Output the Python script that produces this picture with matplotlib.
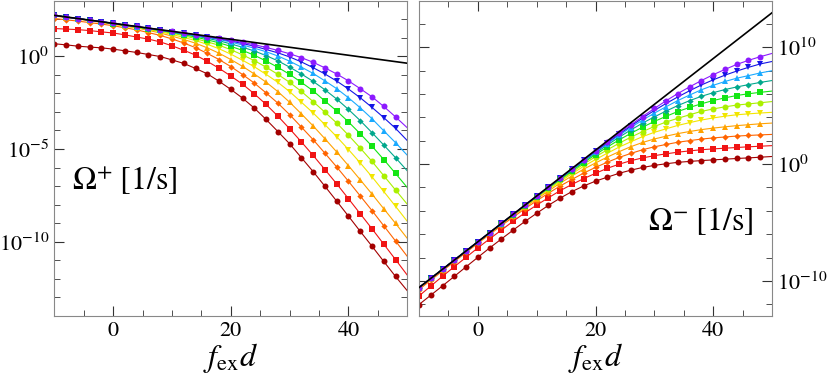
import matplotlib.pyplot as plt
from matplotlib import ticker

plt.rcParams["font.family"] = "STIXGeneral"
plt.rcParams["mathtext.fontset"] = "stix"

# x grid (f_ex d); markers sit on every point except the last one
fd = list(range(-10, 51, 2))

# black reference lines (straight on the log axis), log10 values at the two ends
black_x = [-10, 50]
black_plus = [2.20, -0.38]
black_minus = [-10.57, 12.95]

# log10 of Omega+ (left panel)
plus_darkred = [0.67, 0.61, 0.54, 0.49, 0.45, 0.38, 0.29, 0.20, 0.09, -0.02, -0.20, -0.39, -0.66, -0.95, -1.35,
                -1.79, -2.26, -2.80, -3.41, -4.06, -4.72, -5.47, -6.22, -7.01, -7.81, -8.62, -9.44, -10.24,
                -11.06, -11.87, -12.64]
plus_red = [1.49, 1.46, 1.43, 1.38, 1.31, 1.25, 1.15, 1.03, 0.92, 0.77, 0.56, 0.32, 0.06, -0.28, -0.65, -1.07,
            -1.51, -2.03, -2.60, -3.23, -3.91, -4.62, -5.35, -6.11, -6.88, -7.68, -8.49, -9.30, -10.13, -10.96,
            -11.80]
plus_orange = [2.03, 1.96, 1.89, 1.81, 1.73, 1.64, 1.53, 1.42, 1.27, 1.12, 0.93, 0.71, 0.46, 0.15, -0.18, -0.56,
               -0.99, -1.45, -1.98, -2.53, -3.15, -3.82, -4.50, -5.23, -5.97, -6.74, -7.53, -8.32, -9.14, -9.96,
               -10.79]
plus_lorange = [2.17, 2.08, 2.00, 1.91, 1.82, 1.72, 1.62, 1.52, 1.39, 1.25, 1.08, 0.90, 0.70, 0.45, 0.16, -0.18,
                -0.55, -0.96, -1.40, -1.91, -2.48, -3.11, -3.76, -4.45, -5.16, -5.90, -6.66, -7.43, -8.22, -9.01,
                -9.82]
plus_yellow = [2.20, 2.11, 2.02, 1.93, 1.84, 1.74, 1.64, 1.55, 1.44, 1.32, 1.17, 1.01, 0.84, 0.64, 0.40, 0.11,
               -0.22, -0.57, -0.98, -1.41, -1.91, -2.48, -3.06, -3.69, -4.34, -5.03, -5.75, -6.50, -7.29, -8.09,
               -8.90]
plus_ygreen = [2.20, 2.11, 2.03, 1.93, 1.85, 1.75, 1.65, 1.56, 1.46, 1.36, 1.24, 1.10, 0.95, 0.77, 0.59, 0.35,
               0.07, -0.24, -0.59, -0.98, -1.41, -1.90, -2.45, -3.02, -3.60, -4.26, -4.95, -5.67, -6.44, -7.21,
               -7.98]
plus_green = [2.20, 2.11, 2.03, 1.94, 1.85, 1.76, 1.66, 1.58, 1.48, 1.39, 1.28, 1.16, 1.03, 0.88, 0.72, 0.53,
              0.31, 0.05, -0.26, -0.60, -0.98, -1.41, -1.87, -2.42, -2.95, -3.54, -4.18, -4.85, -5.57, -6.32,
              -7.08]
plus_teal = [2.20, 2.11, 2.03, 1.94, 1.86, 1.77, 1.67, 1.59, 1.49, 1.40, 1.30, 1.20, 1.09, 0.96, 0.83, 0.66, 0.48,
             0.28, 0.03, -0.25, -0.59, -0.96, -1.36, -1.81, -2.31, -2.87, -3.47, -4.12, -4.79, -5.47, -6.18]
plus_lblue = [2.20, 2.11, 2.03, 1.94, 1.86, 1.77, 1.68, 1.59, 1.50, 1.41, 1.31, 1.21, 1.12, 1.01, 0.90, 0.76,
              0.60, 0.43, 0.24, 0.01, -0.27, -0.59, -0.93, -1.33, -1.75, -2.24, -2.78, -3.37, -4.02, -4.66, -5.34]
plus_blue = [2.20, 2.11, 2.03, 1.94, 1.86, 1.77, 1.68, 1.60, 1.50, 1.42, 1.32, 1.23, 1.14, 1.04, 0.94, 0.82, 0.68,
             0.54, 0.36, 0.18, -0.04, -0.31, -0.62, -0.96, -1.34, -1.77, -2.24, -2.76, -3.31, -3.89, -4.55]
plus_purple = [2.20, 2.11, 2.03, 1.94, 1.86, 1.77, 1.68, 1.60, 1.51, 1.42, 1.33, 1.23, 1.15, 1.05, 0.96, 0.85,
               0.74, 0.62, 0.47, 0.31, 0.13, -0.08, -0.33, -0.63, -0.96, -1.33, -1.75, -2.19, -2.71, -3.27, -3.86]

# log10 of Omega- (right panel)
minus_darkred = [-12.02, -11.22, -10.42, -9.61, -8.79, -7.98, -7.18, -6.41, -5.65, -4.91, -4.21, -3.53, -2.91,
                 -2.35, -1.87, -1.46, -1.12, -0.79, -0.52, -0.29, -0.11, 0.03, 0.15, 0.23, 0.30, 0.36, 0.42, 0.48,
                 0.53, 0.59, 0.65]
minus_red = [-11.28, -10.44, -9.60, -8.78, -7.98, -7.17, -6.40, -5.65, -4.89, -4.17, -3.51, -2.88, -2.27, -1.74,
             -1.24, -0.79, -0.36, -0.01, 0.29, 0.53, 0.72, 0.88, 1.02, 1.13, 1.23, 1.30, 1.36, 1.42, 1.48, 1.53,
             1.58]
minus_orange = [-10.74, -9.94, -9.14, -8.35, -7.56, -6.78, -6.02, -5.26, -4.54, -3.82, -3.14, -2.49, -1.87,
                -1.31, -0.77, -0.28, 0.16, 0.57, 0.91, 1.23, 1.48, 1.68, 1.87, 2.01, 2.14, 2.24, 2.32, 2.40, 2.45,
                2.50, 2.54]
minus_lorange = [-10.60, -9.82, -9.03, -8.25, -7.47, -6.70, -5.93, -5.16, -4.42, -3.69, -2.99, -2.30, -1.63,
                 -1.01, -0.43, 0.10, 0.60, 1.06, 1.49, 1.85, 2.15, 2.39, 2.61, 2.79, 2.95, 3.08, 3.19, 3.29, 3.37,
                 3.45, 3.51]
minus_yellow = [-10.57, -9.79, -9.01, -8.23, -7.45, -6.68, -5.91, -5.13, -4.37, -3.62, -2.90, -2.19, -1.49,
                -0.82, -0.19, 0.39, 0.93, 1.45, 1.91, 2.35, 2.72, 3.02, 3.31, 3.55, 3.77, 3.95, 4.10, 4.22, 4.30,
                4.37, 4.43]
minus_ygreen = [-10.57, -9.79, -9.00, -8.23, -7.45, -6.67, -5.90, -5.12, -4.35, -3.58, -2.83, -2.10, -1.38,
                -0.69, 0.00, 0.63, 1.22, 1.78, 2.30, 2.78, 3.22, 3.60, 3.92, 4.22, 4.51, 4.72, 4.90, 5.05, 5.15,
                5.25, 5.35]
minus_green = [-10.57, -9.79, -9.00, -8.22, -7.44, -6.66, -5.89, -5.10, -4.33, -3.55, -2.79, -2.04, -1.30, -0.58,
               0.13, 0.81, 1.46, 2.07, 2.63, 3.16, 3.65, 4.09, 4.50, 4.85, 5.16, 5.44, 5.67, 5.87, 6.02, 6.14, 6.25]
minus_teal = [-10.57, -9.79, -9.00, -8.22, -7.43, -6.65, -5.88, -5.09, -4.32, -3.54, -2.77, -2.00, -1.24, -0.50,
              0.24, 0.94, 1.63, 2.30, 2.92, 3.51, 4.04, 4.54, 5.01, 5.43, 5.80, 6.11, 6.38, 6.60, 6.80, 6.99, 7.15]
minus_lblue = [-10.57, -9.79, -9.00, -8.22, -7.43, -6.65, -5.87, -5.09, -4.31, -3.53, -2.76, -1.99, -1.21, -0.45,
               0.31, 1.04, 1.75, 2.45, 3.13, 3.77, 4.36, 4.91, 5.44, 5.91, 6.36, 6.74, 7.07, 7.35, 7.57, 7.80, 7.99]
minus_blue = [-10.57, -9.79, -9.00, -8.22, -7.43, -6.65, -5.87, -5.08, -4.31, -3.52, -2.75, -1.97, -1.19, -0.42,
              0.35, 1.10, 1.83, 2.56, 3.25, 3.94, 4.59, 5.19, 5.75, 6.28, 6.77, 7.21, 7.61, 7.96, 8.28, 8.57, 8.78]
minus_purple = [-10.57, -9.79, -9.00, -8.22, -7.43, -6.65, -5.87, -5.08, -4.30, -3.52, -2.74, -1.97, -1.18,
                -0.41, 0.37, 1.13, 1.89, 2.64, 3.36, 4.07, 4.76, 5.42, 6.04, 6.61, 7.15, 7.65, 8.10, 8.53, 8.88,
                9.19, 9.47]

# (left values, right values, colour, marker, marker size) drawn from red to purple
series = [
    (plus_darkred, minus_darkred, "#a30000", "o", 4.3),
    (plus_red, minus_red, "#f01414", "s", 4.5),
    (plus_orange, minus_orange, "#ff6400", "D", 3.2),
    (plus_lorange, minus_lorange, "#ffa200", "^", 4.3),
    (plus_yellow, minus_yellow, "#f2e600", "v", 4.3),
    (plus_ygreen, minus_ygreen, "#aaf000", "o", 4.3),
    (plus_green, minus_green, "#14e614", "s", 4.3),
    (plus_teal, minus_teal, "#00a88c", "D", 3.2),
    (plus_lblue, minus_lblue, "#1aaaff", "^", 4.3),
    (plus_blue, minus_blue, "#1414e6", "v", 4.3),
    (plus_purple, minus_purple, "#8c1aff", "o", 4.3),
]

fig = plt.figure(figsize=(8.3, 3.91), dpi=100)
ax1 = fig.add_axes([54.3 / 830, 75 / 391, 353 / 830, 315.5 / 391])
ax2 = fig.add_axes([419 / 830, 75 / 391, 353 / 830, 315.5 / 391])

for ax, idx, black in [(ax1, 0, black_plus), (ax2, 1, black_minus)]:
    for s in series:
        vals = [10 ** v for v in s[idx]]
        ax.plot(fd, vals, color=s[2], lw=0.8)
        ax.plot(fd[:-1], vals[:-1], ls="none", marker=s[3], ms=s[4], color=s[2], mew=0)
    ax.plot(black_x, [10 ** v for v in black], color="black", lw=1.2, zorder=5)
    ax.set_yscale("log")
    ax.set_xlim(-10, 50)
    ax.xaxis.set_major_locator(ticker.FixedLocator([0, 20, 40]))
    ax.xaxis.set_minor_locator(ticker.MultipleLocator(5))
    ax.set_xlabel(r"$f_{\rm ex}d$", fontsize=23, labelpad=0)
    for sp in ax.spines.values():
        sp.set_color("#888888")
    ax.tick_params(which="both", direction="in", top=True, bottom=True, left=True, right=True,
                   color="#333333", labelsize=16)
    ax.tick_params(which="major", length=7)
    ax.tick_params(which="minor", length=4)

ax1.set_ylim(1e-14, 1e3)
ax1.yaxis.set_major_locator(ticker.FixedLocator([1e-10, 1e-5, 1e0]))
ax1.yaxis.set_minor_locator(ticker.FixedLocator([10.0 ** k for k in range(-14, 4)]))
ax1.yaxis.set_major_formatter(ticker.LogFormatterMathtext())
ax1.yaxis.set_minor_formatter(ticker.NullFormatter())
ax1.text(0.05, 0.40, r"$\Omega^{+}\;[1/\mathrm{s}]$", transform=ax1.transAxes, fontsize=23)

ax2.set_ylim(1e-13, 1e14)
ax2.yaxis.set_major_locator(ticker.FixedLocator([1e-10, 1e0, 1e10]))
ax2.yaxis.set_minor_locator(ticker.FixedLocator([10.0 ** k for k in range(-12, 15, 2)]))
ax2.yaxis.set_major_formatter(ticker.LogFormatterMathtext())
ax2.yaxis.set_minor_formatter(ticker.NullFormatter())
ax2.tick_params(labelleft=False, labelright=True)
ax2.text(0.946, 0.272, r"$\Omega^{-}\;[1/\mathrm{s}]$", transform=ax2.transAxes, fontsize=23, ha="right")

fig.savefig("out.png", dpi=100)
